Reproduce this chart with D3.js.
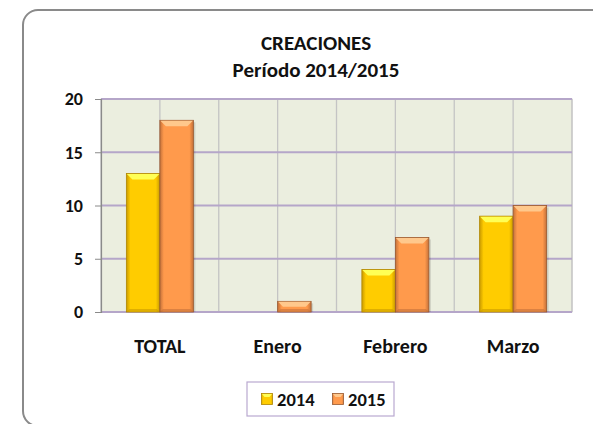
<!DOCTYPE html>
<html>
<head>
<meta charset="utf-8">
<script src="https://cdn.jsdelivr.net/npm/d3@7"></script>
<style>
  body { margin: 0; background: #fff; }
  svg { display: block; }
  text { font-family: Carlito, Lato, "Open Sans", sans-serif; font-weight: bold; fill: #111; }
</style>
</head>
<body>
<div id="chart"></div>
<script>
const categories = ["TOTAL", "Enero", "Febrero", "Marzo"];
const seriesNames = ["2014", "2015"];
const values2014 = [13, 0, 4, 9];
const values2015 = [18, 1, 7, 10];
const yTickValues = [0, 5, 10, 15, 20];
const titleLines = ["CREACIONES", "Período 2014/2015"];

const width = 593, height = 424;
const plot = { left: 101, right: 572, top: 99, bottom: 312 };

const svg = d3.select("#chart").append("svg")
	.attr("width", width)
	.attr("height", height);

// bevel colours for the two series
const palette = [
	{ base: "#ffcc00", light: "#ffff55", dark: "#c99a00", edge: "#b08600" },
	{ base: "#ff9a4c", light: "#ffc88c", dark: "#c4713a", edge: "#9a5a30" }
];

const defs = svg.append("defs");
palette.forEach((c, i) => {
	const g = defs.append("linearGradient").attr("id", "grad" + i)
		.attr("x1", 0).attr("x2", 1).attr("y1", 0).attr("y2", 0);
	g.append("stop").attr("offset", "0%").attr("stop-color", c.dark);
	g.append("stop").attr("offset", "12%").attr("stop-color", c.base);
	g.append("stop").attr("offset", "88%").attr("stop-color", c.base);
	g.append("stop").attr("offset", "100%").attr("stop-color", c.dark);
});

// outer frame
svg.append("rect")
	.attr("x", 23).attr("y", 10)
	.attr("width", 600).attr("height", 416)
	.attr("rx", 15).attr("ry", 15)
	.attr("fill", "#fff")
	.attr("stroke", "#8a8a8a")
	.attr("stroke-width", 2);

const x = d3.scaleBand().domain(categories).range([plot.left, plot.right]).padding(0);
const xs = d3.scaleBand().domain(seriesNames).range([0, x.bandwidth()]).paddingInner(0).paddingOuter(0.757);
const y = d3.scaleLinear().domain([0, 20]).range([plot.bottom, plot.top]);

// plot background
svg.append("rect")
	.attr("x", plot.left).attr("y", plot.top)
	.attr("width", plot.right - plot.left).attr("height", plot.bottom - plot.top)
	.attr("fill", "#ebeedf")
	.attr("stroke", "#d0d0d0");

// vertical grid lines (category edges and middles)
const vLines = [];
categories.forEach(c => { vLines.push(x(c)); vLines.push(x(c) + x.bandwidth() / 2); });
vLines.push(plot.right);
svg.append("g").selectAll("line")
	.data(vLines)
	.join("line")
	.attr("x1", d => d).attr("x2", d => d)
	.attr("y1", plot.top).attr("y2", plot.bottom)
	.attr("stroke", "#c4c4c4")
	.attr("stroke-width", 1.3);

// horizontal grid lines
svg.append("g").selectAll("line")
	.data(yTickValues)
	.join("line")
	.attr("x1", plot.left).attr("x2", plot.right)
	.attr("y1", d => y(d)).attr("y2", d => y(d))
	.attr("stroke", "#b5a6c9")
	.attr("stroke-width", 2.2);

// y axis
const yAxis = d3.axisLeft(y).tickValues(yTickValues).tickSize(6).tickPadding(12);
const yg = svg.append("g")
	.attr("transform", `translate(${plot.left},0)`)
	.call(yAxis);
yg.select(".domain").attr("stroke", "#8a8a8a").attr("stroke-width", 1.2);
yg.selectAll(".tick line").attr("stroke", "#8a8a8a");
yg.selectAll(".tick text").style("font-size", "18px").attr("fill", "#111");

// bars
const rows = [];
categories.forEach((c, i) => {
	rows.push({ cat: c, s: 0, v: values2014[i] });
	rows.push({ cat: c, s: 1, v: values2015[i] });
});

const bars = svg.append("g").selectAll("g")
	.data(rows.filter(d => d.v > 0))
	.join("g")
	.attr("transform", d => `translate(${x(d.cat) + xs(seriesNames[d.s])},0)`);

const bw = xs.bandwidth();
const bev = 6;

// soft shadow on the right
bars.append("rect")
	.attr("x", 2).attr("y", d => y(d.v) + 2)
	.attr("width", bw).attr("height", d => y(0) - y(d.v) - 2)
	.attr("fill", "#000").attr("opacity", 0.12);

bars.append("rect")
	.attr("x", 0).attr("y", d => y(d.v))
	.attr("width", bw).attr("height", d => y(0) - y(d.v))
	.attr("fill", d => `url(#grad${d.s})`)
	.attr("stroke", d => palette[d.s].edge)
	.attr("stroke-width", 0.8);

// top bevel
bars.append("path")
	.attr("d", d => {
		const t = y(d.v), h = Math.min(bev, (y(0) - t) / 2);
		return `M0.5,${t + 0.5}L${bw - 0.5},${t + 0.5}L${bw - h},${t + h}L${h},${t + h}Z`;
	})
	.attr("fill", d => palette[d.s].light);

// bottom bevel
bars.append("path")
	.attr("d", d => {
		const b = y(0), h = Math.min(3, (b - y(d.v)) / 2);
		return `M0.5,${b - 0.5}L${bw - 0.5},${b - 0.5}L${bw - h},${b - h}L${h},${b - h}Z`;
	})
	.attr("fill", d => palette[d.s].dark)
	.attr("opacity", 0.6);

// x labels
svg.append("g").selectAll("text")
	.data(categories)
	.join("text")
	.attr("x", d => x(d) + x.bandwidth() / 2)
	.attr("y", 353)
	.attr("text-anchor", "middle")
	.style("font-size", "20px")
	.text(d => d);

// title
svg.append("g").selectAll("text")
	.data(titleLines)
	.join("text")
	.attr("x", 316)
	.attr("y", (d, i) => 50 + i * 27)
	.attr("text-anchor", "middle")
	.style("font-size", "21px")
	.text(d => d);

// legend
const legend = svg.append("g");
legend.append("rect")
	.attr("x", 247).attr("y", 382)
	.attr("width", 147).attr("height", 34)
	.attr("fill", "#fff")
	.attr("stroke", "#b9a9d0")
	.attr("stroke-width", 1.2);

const legendX = [267, 338];
const items = legend.selectAll("g.item")
	.data(seriesNames)
	.join("g")
	.attr("class", "item")
	.attr("transform", (d, i) => `translate(${legendX[i]},399)`);

items.append("rect")
	.attr("x", -5.5).attr("y", -5.5).attr("width", 11).attr("height", 11)
	.attr("fill", (d, i) => `url(#grad${i})`)
	.attr("stroke", (d, i) => palette[i].edge)
	.attr("stroke-width", 0.8);
items.append("path")
	.attr("d", "M-5,-5L5,-5L2.5,-2L-2.5,-2Z")
	.attr("fill", (d, i) => palette[i].light);
items.append("text")
	.attr("x", 10).attr("y", 6.5)
	.style("font-size", "18.5px")
	.text(d => d);
</script>
</body>
</html>
